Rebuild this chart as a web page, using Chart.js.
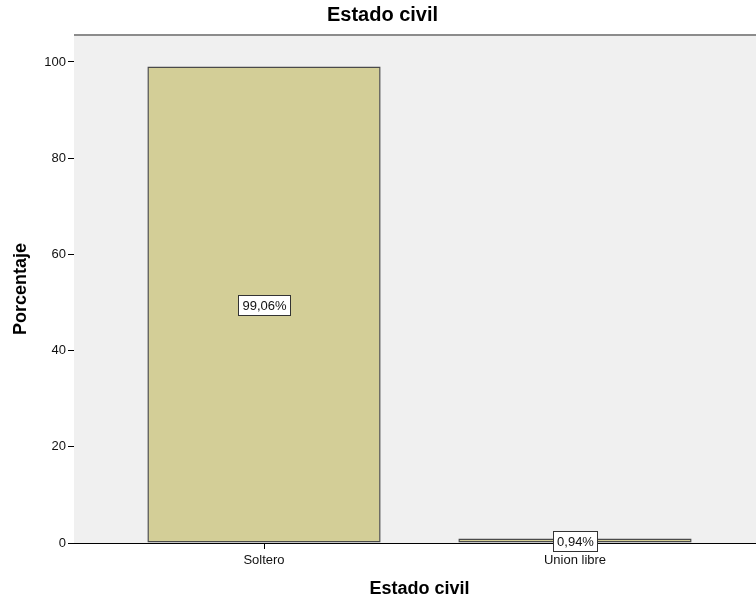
<!DOCTYPE html>
<html>
<head>
<meta charset="utf-8">
<script src="https://cdn.jsdelivr.net/npm/chart.js@4/dist/chart.umd.min.js"></script>
<style>
  html, body { margin: 0; padding: 0; background: #ffffff; overflow: hidden; }
  #wrap { position: absolute; left: 0; top: 0; width: 770px; height: 600px; }
</style>
</head>
<body>
<div id="wrap"><canvas id="c" width="770" height="600"></canvas></div>
<script>
// Estado civil: porcentaje por categoría
const categories = ['Soltero', 'Union libre'];
const percentages = [99.06, 0.94];
const yTicks = [0, 20, 40, 60, 80, 100];

const FONT = "'Liberation Sans', Arial, sans-serif";

function fmtPct(v) {
  return v.toFixed(2).replace('.', ',') + '%';
}

// Panel background, top frame line and value boxes
const panelPlugin = {
  id: 'panel',
  beforeDatasetsDraw(chart) {
    const { ctx, chartArea: a } = chart;
    ctx.save();
    ctx.fillStyle = '#f0f0f0';
    ctx.fillRect(a.left, a.top, a.right - a.left, a.bottom - a.top);
    ctx.strokeStyle = '#8c8c8c';
    ctx.lineWidth = 2;
    ctx.beginPath();
    ctx.moveTo(a.left, a.top);
    ctx.lineTo(a.right, a.top);
    ctx.stroke();
    ctx.restore();
  },
  afterDatasetsDraw(chart) {
    const { ctx } = chart;
    const yScale = chart.scales.y;
    const meta = chart.getDatasetMeta(0);
    ctx.save();
    ctx.font = '13px ' + FONT;
    ctx.textAlign = 'center';
    ctx.textBaseline = 'middle';
    meta.data.forEach((bar, i) => {
      const v = percentages[i];
      const txt = fmtPct(v);
      const cx = Math.round(bar.x);
      const cy = Math.round(yScale.getPixelForValue(v / 2));
      const w = Math.ceil(ctx.measureText(txt).width) + 7;
      const h = 20;
      const x0 = Math.round(cx - w / 2) + 0.5;
      const y0 = Math.round(cy - h / 2) + 0.5;
      ctx.fillStyle = '#ffffff';
      ctx.fillRect(x0, y0, w, h);
      ctx.strokeStyle = '#333333';
      ctx.lineWidth = 1;
      ctx.strokeRect(x0, y0, w, h);
      ctx.fillStyle = '#111111';
      ctx.fillText(txt, cx + 0.5, cy + 1);
    });
    ctx.restore();
  }
};

new Chart(document.getElementById('c'), {
  type: 'bar',
  data: {
    datasets: [{
      data: percentages.map((v, i) => ({ x: i, y: v })),
      backgroundColor: '#d3ce97',
      borderColor: '#4a4a4a',
      borderWidth: 1.5,
      borderSkipped: false,
      barPercentage: 0.75,
      categoryPercentage: 1.0
    }]
  },
  options: {
    responsive: false,
    animation: false,
    devicePixelRatio: 1,
    layout: { padding: { left: 0, right: 5, top: 0, bottom: 0 } },
    plugins: {
      legend: { display: false },
      tooltip: { enabled: false },
      title: {
        display: true,
        text: 'Estado civil',
        color: '#000000',
        font: { family: FONT, size: 20, weight: 'bold', lineHeight: 1.2 },
        padding: { top: 3, bottom: 8 }
      }
    },
    scales: {
      x: {
        type: 'linear',
        offset: false,
        min: -0.611,
        max: 1.611,
        afterBuildTicks(scale) {
          scale.ticks = categories.map((c, i) => ({ value: i }));
        },
        afterFit(scale) { scale.height = 57; },
        grid: {
          display: true,
          offset: false,
          drawOnChartArea: false,
          drawTicks: true,
          tickLength: 6,
          tickColor: '#000000',
          color: '#000000'
        },
        border: { display: true, color: '#000000', width: 1 },
        ticks: {
          autoSkip: false,
          maxRotation: 0,
          padding: 4,
          color: '#111111',
          font: { family: FONT, size: 13 },
          callback: (v) => categories[v]
        },
        title: {
          display: true,
          text: 'Estado civil',
          color: '#000000',
          font: { family: FONT, size: 18, weight: 'bold', lineHeight: 1.2 },
          padding: { top: 0, bottom: 0 }
        }
      },
      y: {
        min: 0,
        max: 105.6,
        afterBuildTicks(scale) {
          scale.ticks = yTicks.map(v => ({ value: v }));
        },
        afterFit(scale) { scale.width = 74; },
        grid: {
          display: true,
          drawOnChartArea: false,
          drawTicks: true,
          tickLength: 6,
          tickColor: '#000000',
          color: '#000000'
        },
        border: { display: true, color: '#000000', width: 1 },
        ticks: {
          padding: 2,
          color: '#111111',
          font: { family: FONT, size: 13 }
        },
        title: {
          display: true,
          text: 'Porcentaje',
          color: '#000000',
          font: { family: FONT, size: 18, weight: 'bold', lineHeight: 1.2 },
          padding: { top: 10, bottom: 0 }
        }
      }
    }
  },
  plugins: [panelPlugin]
});
</script>
</body>
</html>
